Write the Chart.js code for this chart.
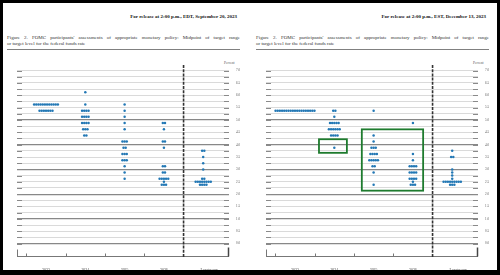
<!DOCTYPE html>
<html>
<head>
<meta charset="utf-8">
<script src="https://cdn.jsdelivr.net/npm/chart.js@4/dist/chart.umd.min.js"></script>
<style>
  html, body { margin: 0; padding: 0; background: #000; width: 500px; height: 275px; overflow: hidden; }
  #sheet { position: absolute; left: 3px; top: 3px; width: 494px; height: 267px; background: #fff; }
  .panel { position: absolute; top: 0; width: 248px; height: 275px; }
  .release { position: absolute; right: 11px; top: 14px; font: bold 5px "Liberation Serif", serif; line-height: 6px; white-space: nowrap; color: #111; }
  .caption { position: absolute; left: 7px; top: 35px; width: 233px; font: 5px "Liberation Serif", serif; line-height: 6px; color: #333; }
  .caption .l1 { text-align: justify; text-align-last: justify; white-space: nowrap; }
  .rule { position: absolute; left: 7px; top: 48.5px; width: 233px; height: 1.5px; background: #808080; }
  .percent { position: absolute; left: 224px; top: 61px; font: 3.5px "Liberation Serif", serif; color: #555; }
  canvas { position: absolute; left: 0; top: 55px; }
</style>
</head>
<body>
<div id="sheet"></div>
<div class="panel" style="left:0">
  <div class="release">For release at 2:00 p.m., EDT, September 20, 2023</div>
  <div class="caption"><div class="l1">Figure 2. FOMC participants' assessments of appropriate monetary policy: Midpoint of target range</div><div>or target level for the federal funds rate</div></div>
  <div class="rule"></div>
  <div class="percent">Percent</div>
  <canvas id="sepChart" width="248" height="215"></canvas>
</div>
<div class="panel" style="left:249px">
  <div class="release">For release at 2:00 p.m., EST, December 13, 2023</div>
  <div class="caption"><div class="l1">Figure 2. FOMC participants' assessments of appropriate monetary policy: Midpoint of target range</div><div>or target level for the federal funds rate</div></div>
  <div class="rule"></div>
  <div class="percent">Percent</div>
  <canvas id="decChart" width="248" height="215"></canvas>
</div>
<script>
// categories on the x axis
const categories = ["2023", "2024", "2025", "2026", "Longer run"];
const labelPos = [0, 1, 2, 3, 4.15];

// y tick values (percent)
const yTicks = [];
for (let v = 0; v <= 7; v += 0.25) yTicks.push(v);

// September 2023 projections: [rate, number of participants]
const sep2023 = [[5.625, 12], [5.375, 7]];
const sep2024 = [[6.125, 1], [5.625, 1], [5.375, 4], [5.125, 4], [4.875, 4], [4.625, 3], [4.375, 2]];
const sep2025 = [[5.625, 1], [5.375, 1], [5.125, 1], [4.875, 1], [4.625, 1], [4.125, 3], [3.875, 2], [3.625, 3], [3.375, 3], [3.125, 1], [2.875, 1], [2.625, 1]];
const sep2026 = [[4.875, 2], [4.625, 1], [4.125, 2], [3.875, 1], [3.125, 2], [2.875, 2], [2.625, 5], [2.5, 1], [2.375, 3]];
const sepLonger = [[3.75, 2], [3.5, 1], [3.25, 1], [3.0, 1], [2.625, 2], [2.5, 8], [2.375, 4]];

// December 2023 projections
const dec2023 = [[5.375, 19]];
const dec2024 = [[5.375, 2], [5.125, 1], [4.875, 5], [4.625, 6], [4.375, 4], [3.875, 1]];
const dec2025 = [[5.375, 1], [4.375, 1], [4.125, 1], [3.875, 3], [3.625, 4], [3.375, 5], [3.125, 2], [2.875, 1], [2.375, 1]];
const dec2026 = [[4.875, 1], [3.625, 1], [3.375, 1], [3.125, 4], [2.875, 4], [2.625, 4], [2.5, 1], [2.375, 3]];
const decLonger = [[3.75, 1], [3.5, 2], [3.0, 1], [2.875, 1], [2.75, 1], [2.625, 1], [2.5, 9], [2.375, 3]];

// green highlight boxes on the December panel, in data units [x1, x2, yTop, yBottom]
const decBoxes = [[0.61, 1.32, 4.22, 3.67], [1.7, 3.26, 4.62, 2.14]];

const DOT_STEP = 0.055;
const SERIF = '"Liberation Serif", serif';

function buildDots(groups) {
  const pts = [];
  groups.forEach((rows, ci) => {
    rows.forEach(([rate, n]) => {
      for (let i = 0; i < n; i++) {
        pts.push({ x: ci + (i - (n - 1) / 2) * DOT_STEP, y: rate });
      }
    });
  });
  return pts;
}

const isWhole = (v) => Math.abs(v - Math.round(v)) < 1e-6;

// axis bracket, end dashes on grid lines, the dashed divider
const frame = {
  id: "frame",
  beforeDatasetsDraw(chart) {
    const { ctx, chartArea: a, scales } = chart;
    const xs = scales.x, ys = scales.y;
    ctx.save();
    ctx.strokeStyle = "#8a8a8a";
    ctx.lineWidth = 1;
    yTicks.forEach((v) => {
      const y = Math.round(ys.getPixelForValue(v)) + 0.5;
      ctx.beginPath();
      ctx.moveTo(a.left, y); ctx.lineTo(a.left + 5, y);
      ctx.moveTo(a.right - 5, y); ctx.lineTo(a.right, y);
      ctx.stroke();
    });
    // bottom bracket
    const b = a.bottom - 0.5;
    ctx.strokeStyle = "#777";
    ctx.beginPath();
    ctx.moveTo(a.left, b); ctx.lineTo(a.right, b);
    ctx.moveTo(a.left + 0.5, b); ctx.lineTo(a.left + 0.5, b - 7);
    [-0.5, 0.5, 1.5, 2.5].forEach((v) => {
      const x = Math.round(xs.getPixelForValue(v)) + 0.5;
      ctx.moveTo(x, b); ctx.lineTo(x, b - 3);
    });
    ctx.stroke();
    ctx.lineWidth = 1.5;
    ctx.strokeStyle = "#444";
    ctx.beginPath();
    ctx.moveTo(a.right - 0.5, b); ctx.lineTo(a.right - 0.5, b - 9);
    ctx.stroke();
    // divider before longer run
    const dx = xs.getPixelForValue(3.5);
    ctx.setLineDash([3, 1.2]);
    ctx.strokeStyle = "#333";
    ctx.lineWidth = 1.6;
    ctx.beginPath();
    ctx.moveTo(dx, a.top + 1); ctx.lineTo(dx, a.bottom);
    ctx.stroke();
    ctx.restore();
  },
  afterDatasetsDraw(chart, args, opts) {
    if (!opts.boxes) return;
    const { ctx, scales } = chart;
    ctx.save();
    ctx.strokeStyle = "#1e7b2e";
    ctx.lineWidth = 1.8;
    opts.boxes.forEach(([x1, x2, y1, y2]) => {
      const l = scales.x.getPixelForValue(x1), r = scales.x.getPixelForValue(x2);
      const t = scales.y.getPixelForValue(y1), bt = scales.y.getPixelForValue(y2);
      ctx.strokeRect(l, t, r - l, bt - t);
    });
    ctx.restore();
  }
};

function makeChart(id, groups, boxes) {
  const ctx = document.getElementById(id).getContext("2d");
  return new Chart(ctx, {
    type: "scatter",
    data: {
      datasets: [{
        data: buildDots(groups),
        pointRadius: 1.25,
        pointBorderWidth: 0,
        pointBackgroundColor: "#2378b5",
      }],
    },
    options: {
      responsive: false,
      animation: false,
      devicePixelRatio: 1,
      layout: { padding: { left: 17, right: 3, top: 5, bottom: 0 } },
      plugins: { legend: { display: false }, tooltip: { enabled: false }, frame: { boxes: boxes } },
      scales: {
        x: {
          type: "linear",
          min: -0.738,
          max: 4.656,
          afterFit: (s) => { s.height = 13; },
          afterBuildTicks: (s) => { s.ticks = labelPos.map((v) => ({ value: v })); },
          ticks: {
            autoSkip: false,
            maxRotation: 0,
            padding: 3,
            color: "#444",
            font: { family: SERIF, size: 3.9 },
            callback: (v, i) => categories[i],
          },
          grid: { display: false },
          border: { display: false },
        },
        y: {
          position: "right",
          min: -0.543,
          max: 7.264,
          afterFit: (s) => { s.width = 16; },
          afterBuildTicks: (s) => { s.ticks = yTicks.map((v) => ({ value: v })); },
          ticks: {
            autoSkip: false,
            padding: 7,
            color: "#555",
            font: { family: SERIF, size: 3.3 },
            callback: (v) => (isWhole(v * 2) ? v.toFixed(1) : ""),
          },
          grid: {
            drawTicks: false,
            color: (c) => (c.tick && isWhole(c.tick.value) && c.tick.value < 6 ? "#888" : "#d6d6d6"),
            lineWidth: (c) => (c.tick && isWhole(c.tick.value) && c.tick.value < 6 ? 1.2 : 0.9),
          },
          border: { display: false },
        },
      },
    },
    plugins: [frame],
  });
}

makeChart("sepChart", [sep2023, sep2024, sep2025, sep2026, sepLonger], null);
makeChart("decChart", [dec2023, dec2024, dec2025, dec2026, decLonger], decBoxes);
</script>
</body>
</html>
